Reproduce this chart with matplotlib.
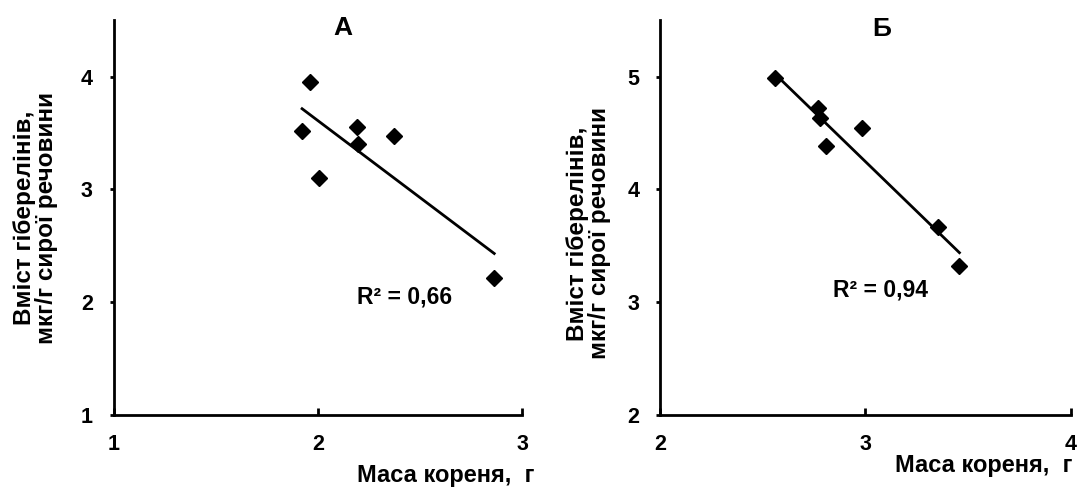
import numpy as np
import matplotlib
matplotlib.use("Agg")
import matplotlib.pyplot as plt

plt.rcParams['font.family'] = ['Liberation Sans', 'DejaVu Sans']
plt.rcParams['font.weight'] = 'bold'

# panel A
mass_a = [1.96, 1.922, 2.003, 2.191, 2.196, 2.373, 2.862]
gib_a = [3.95, 3.52, 3.10, 3.55, 3.40, 3.47, 2.21]
# panel Б
mass_b = [2.557, 2.768, 2.779, 2.808, 2.981, 3.352, 3.458]
gib_b = [4.985, 4.72, 4.63, 4.38, 4.54, 3.67, 3.32]

panels = ['А', 'Б']
r2_labels = ['R² = 0,66', 'R² = 0,94']
xlims = [(1, 3), (2, 4)]
ylims = [(1, 4.5), (2, 5.5)]
ylabel = 'Вміст гіберелінів,\nмкг/г сирої речовини'
xlabel = 'Маса кореня,  г'

fig = plt.figure(figsize=(10.83, 4.93), dpi=100)
ax_a = fig.add_axes([0.1049, 0.1582, 0.3775, 0.801])
ax_b = fig.add_axes([0.6096, 0.1582, 0.3790, 0.801])

data = [(mass_a, gib_a), (mass_b, gib_b)]
title_pos = [(0.56, 0.98), (0.54, 0.977)]
r2_pos = [(0.712, 0.30), (0.537, 0.316)]

for i, ax in enumerate([ax_a, ax_b]):
    xs, ys = np.array(data[i][0]), np.array(data[i][1])
    ax.plot(xs, ys, 'D', color='black', markersize=8, clip_on=False)
    # linear trendline
    k, b = np.polyfit(xs, ys, 1)
    xl = np.array([xs.min(), xs.max()])
    ax.plot(xl, k * xl + b, color='black', lw=2)

    ax.set_xlim(*xlims[i])
    ax.set_ylim(*ylims[i])
    ax.set_xticks(range(xlims[i][0], xlims[i][1] + 1))
    ax.set_yticks(range(ylims[i][0], int(ylims[i][1]) + 1))
    for s in ['top', 'right']:
        ax.spines[s].set_visible(False)
    for s in ['left', 'bottom']:
        ax.spines[s].set_linewidth(2)
    ax.tick_params(axis='x', direction='in', length=5, width=2, pad=14, labelsize=15.5)
    ax.tick_params(axis='y', direction='out', length=3, width=2, pad=12, labelsize=15.5)
    for lab in ax.get_xticklabels() + ax.get_yticklabels():
        lab.set_fontweight('bold')

    ax.text(title_pos[i][0], title_pos[i][1], panels[i], transform=ax.transAxes,
            ha='center', va='center', fontsize=19, fontweight='bold')
    ax.text(r2_pos[i][0], r2_pos[i][1], r2_labels[i], transform=ax.transAxes,
            ha='center', va='center', fontsize=16.5, fontweight='bold')
    ax.set_ylabel(ylabel, fontsize=17.5, fontweight='bold', linespacing=0.95)

ax_a.yaxis.set_label_coords(-0.135, 0.5)
ax_b.yaxis.set_label_coords(-0.12, 0.46)

fig.text(0.330, 0.035, xlabel, ha='left', va='center', fontsize=17, fontweight='bold')
fig.text(0.826, 0.055, xlabel, ha='left', va='center', fontsize=17, fontweight='bold')

fig.savefig('out.png', dpi=100)
